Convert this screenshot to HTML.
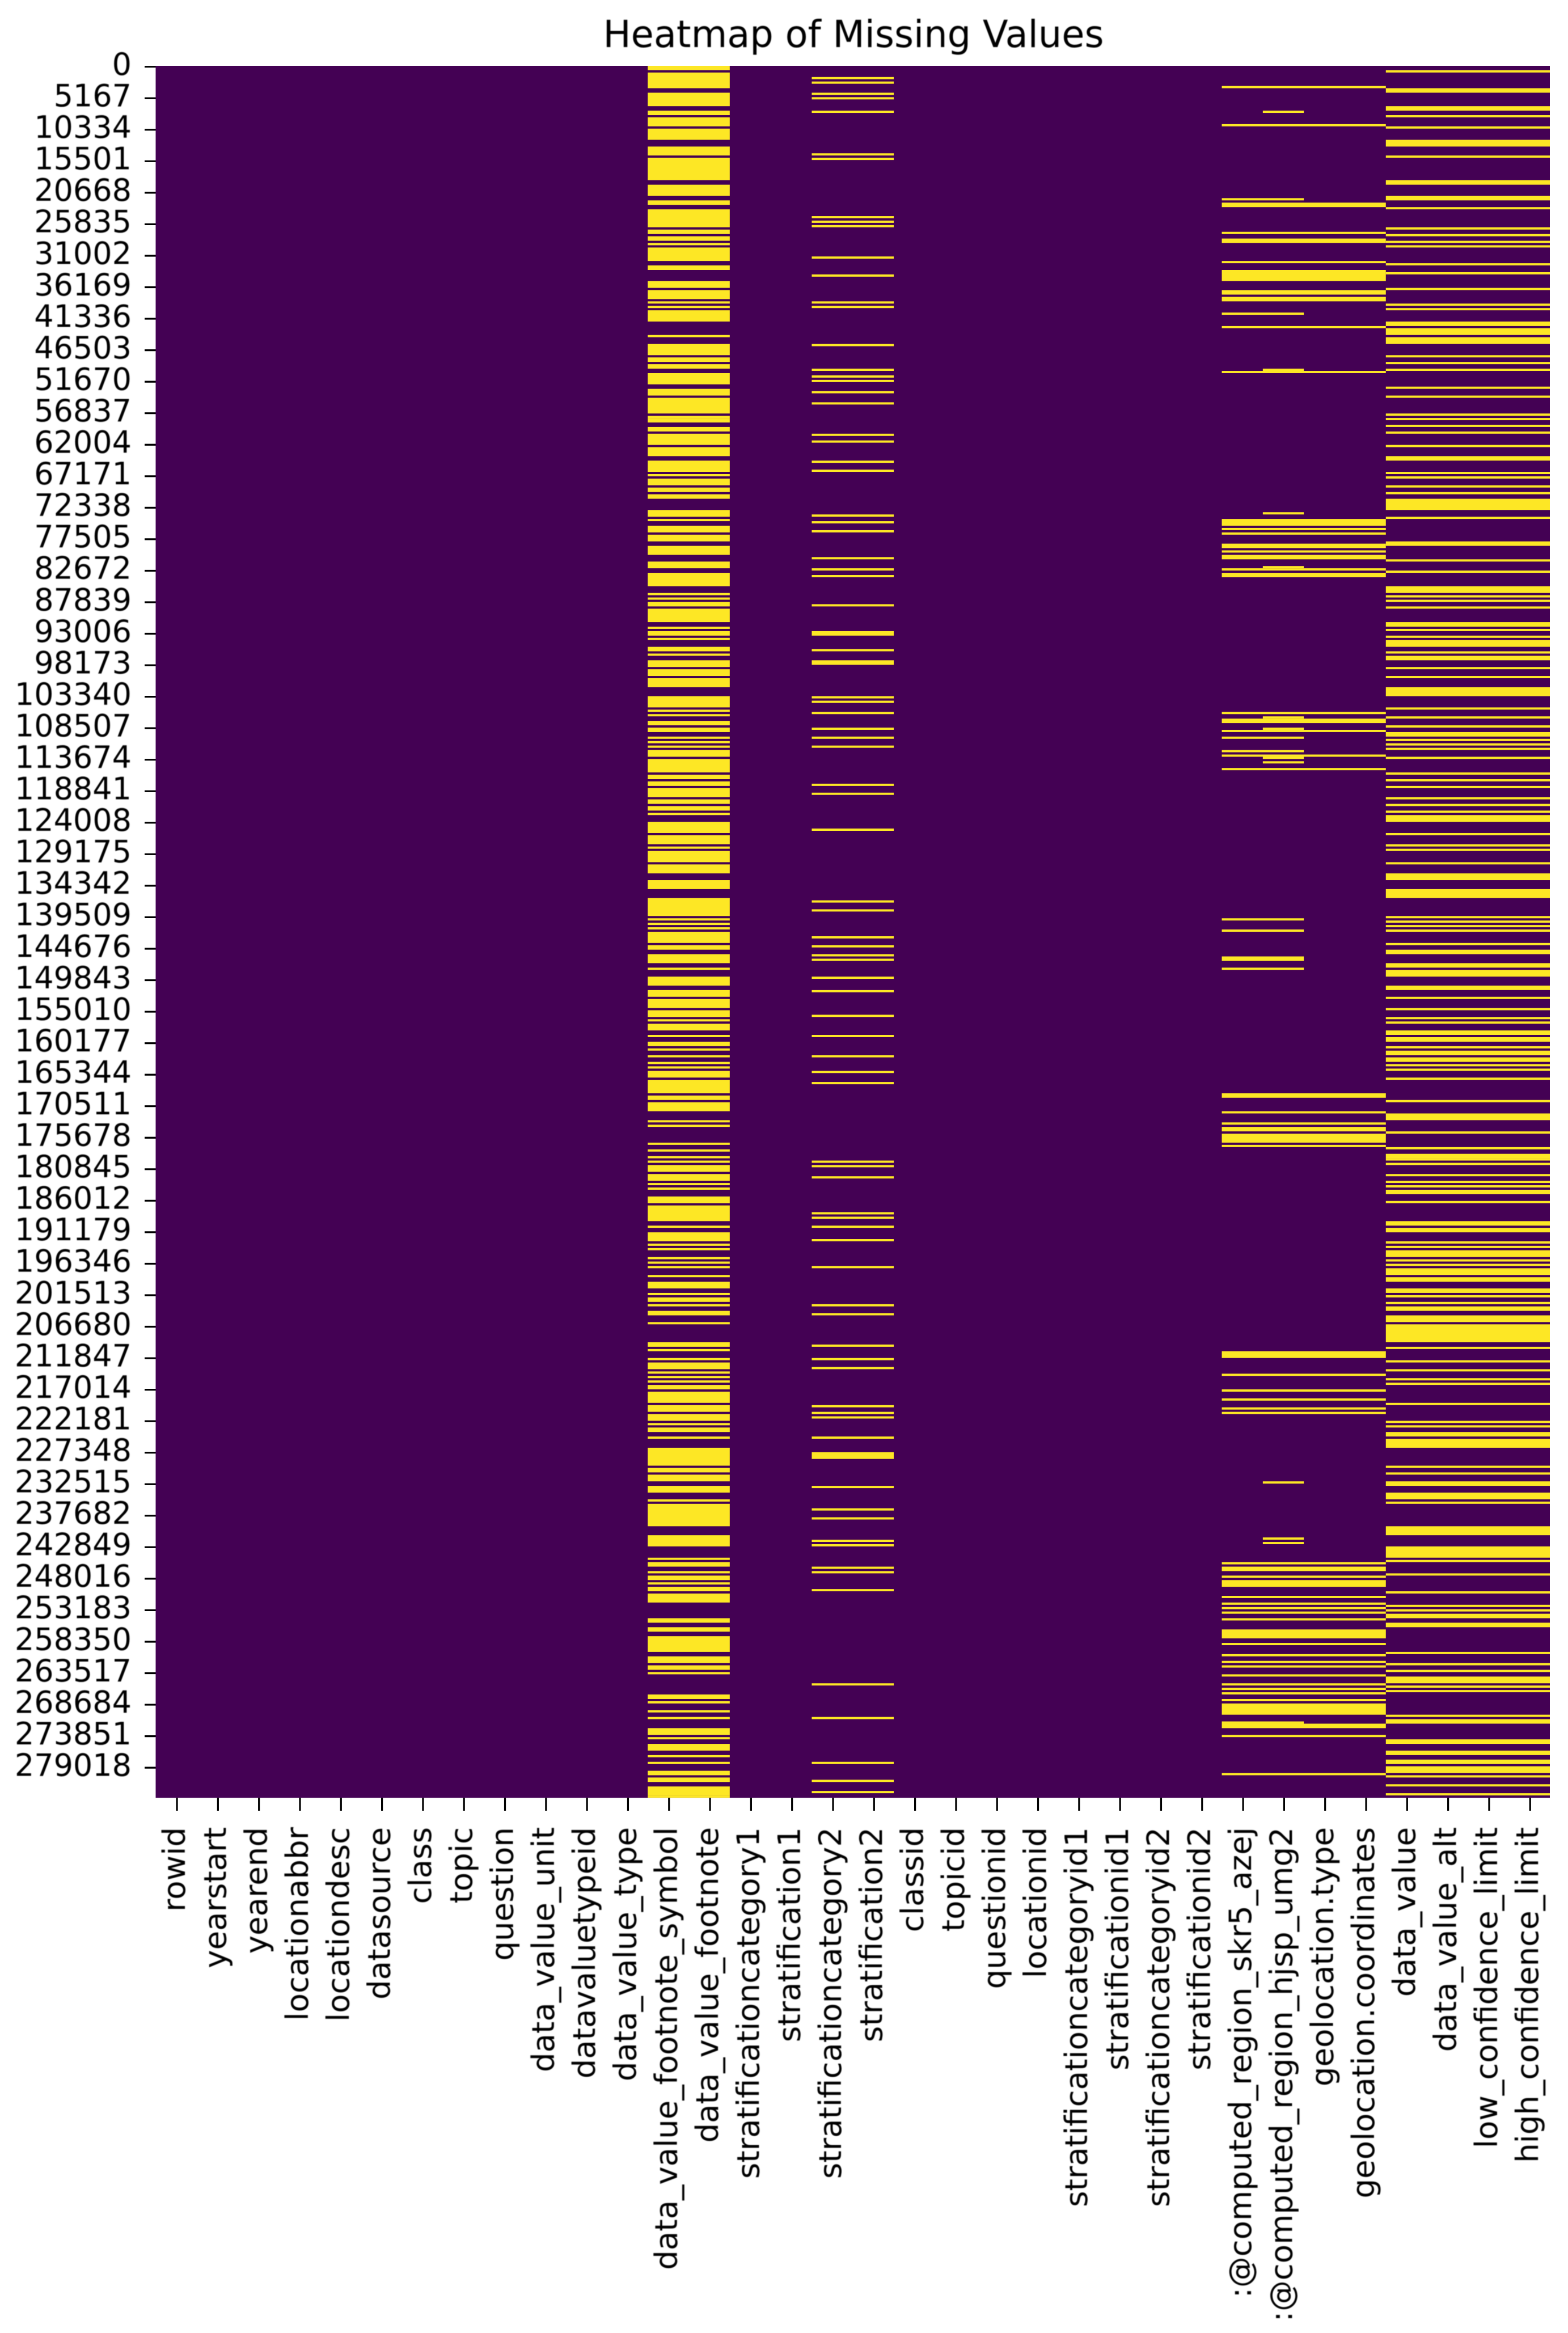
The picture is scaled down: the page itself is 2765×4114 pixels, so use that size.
<!DOCTYPE html>
<html lang="en">
<head>
<meta charset="utf-8">
<title>Heatmap of Missing Values</title>
<style>
html,body{margin:0;padding:0;background:#fff;width:2765px;height:4114px;overflow:hidden}
svg{display:block}
text{font-family:"DejaVu Sans","Liberation Sans",sans-serif;fill:#000;filter:blur(.7px)}
</style>
</head>
<body>
<svg id="chart" xmlns="http://www.w3.org/2000/svg" width="2765" height="4114" viewBox="0 0 2765 4114">
  <rect x="0" y="0" width="2765" height="4114" fill="#ffffff"/>
  <text id="title" x="1505" y="83" font-size="66" text-anchor="middle" textLength="883" lengthAdjust="spacingAndGlyphs">Heatmap of Missing Values</text>
  <g id="cells"></g>
  <g id="y-axis"></g>
  <g id="x-axis"></g>
</svg>
<script>
const columnNames = ["rowid","yearstart","yearend","locationabbr","locationdesc","datasource","class","topic","question","data_value_unit","datavaluetypeid","data_value_type","data_value_footnote_symbol","data_value_footnote","stratificationcategory1","stratification1","stratificationcategory2","stratification2","classid","topicid","questionid","locationid","stratificationcategoryid1","stratificationid1","stratificationcategoryid2","stratificationid2",":@computed_region_skr5_azej",":@computed_region_hjsp_umg2","geolocation.type","geolocation.coordinates","data_value","data_value_alt","low_confidence_limit","high_confidence_limit"];
const rowTickLabels = [0,5167,10334,15501,20668,25835,31002,36169,41336,46503,51670,56837,62004,67171,72338,77505,82672,87839,93006,98173,103340,108507,113674,118841,124008,129175,134342,139509,144676,149843,155010,160177,165344,170511,175678,180845,186012,191179,196346,201513,206680,211847,217014,222181,227348,232515,237682,242849,248016,253183,258350,263517,268684,273851,279018];
const totalRows = 284120;
const rowsPerBlock = 368;

// Missing-value blocks: [first block, number of blocks]
const footnoteMissing = [[0,2],[3,7],[12,6],[20,2],[23,4],[28,5],[36,4],[41,10],[53,5],[60,2],[64,8],[73,2],[76,2],[79,1],[81,6],[89,2],[96,3],[100,4],[105,1],[107,1],[109,5],[120,1],[124,5],[130,2],[133,2],[137,5],[144,3],[148,7],[156,1],[157,2],[161,2],[164,5],[170,4],[176,5],[182,1],[184,3],[188,2],[191,2],[198,3],[202,1],[205,3],[209,3],[214,4],[221,3],[226,6],[235,1],[237,1],[239,2],[242,6],[250,1],[252,2],[255,1],[259,2],[262,1],[265,3],[269,3],[273,4],[281,5],[287,1],[289,1],[292,2],[295,2],[299,1],[301,1],[303,1],[305,3],[309,6],[316,2],[319,2],[322,4],[327,2],[330,2],[333,1],[337,5],[343,4],[348,1],[350,5],[356,4],[363,4],[371,8],[380,1],[382,1],[384,1],[386,5],[392,2],[396,4],[402,1],[406,4],[412,3],[416,4],[421,3],[425,1],[427,3],[432,1],[435,2],[438,1],[441,1],[444,1],[446,1],[448,3],[452,6],[459,2],[462,4],[470,1],[472,1],[480,1],[483,1],[486,1],[488,1],[490,3],[494,3],[498,1],[500,1],[504,3],[508,7],[517,1],[520,4],[525,1],[527,1],[531,1],[533,1],[535,1],[539,1],[542,3],[547,1],[549,2],[552,1],[555,2],[560,1],[569,2],[572,1],[576,1],[578,3],[582,1],[584,1],[586,1],[588,2],[591,5],[597,3],[601,3],[605,1],[607,2],[611,1],[616,8],[625,2],[628,3],[633,3],[639,1],[641,10],[655,5],[665,1],[667,2],[671,1],[673,2],[676,1],[678,2],[681,4],[692,2],[696,2],[700,7],[709,3],[713,2],[716,1],[726,2],[729,1],[733,1],[736,1],[741,3],[745,1],[748,3],[753,1],[756,1],[760,2],[763,2],[767,4],[771,1]];
const stratification2Missing = [[5,1],[7,1],[12,1],[14,1],[20,1],[39,1],[41,1],[67,1],[69,1],[71,1],[85,1],[93,1],[105,1],[107,1],[124,1],[135,1],[138,1],[140,1],[145,1],[150,1],[164,1],[167,1],[176,1],[180,1],[200,1],[203,1],[207,1],[219,1],[224,1],[227,1],[240,1],[252,2],[260,1],[265,2],[281,1],[283,1],[288,1],[295,1],[299,1],[303,1],[320,1],[324,1],[340,1],[372,1],[376,1],[388,1],[392,1],[396,1],[398,1],[406,1],[412,1],[423,1],[432,1],[441,1],[448,1],[453,1],[488,1],[490,1],[495,1],[511,1],[513,1],[517,1],[523,1],[535,1],[552,1],[556,1],[570,1],[576,1],[580,1],[597,1],[600,1],[602,1],[611,1],[618,3],[633,1],[643,1],[647,1],[657,1],[659,1],[669,1],[671,1],[679,1],[721,1],[736,1],[756,1],[764,1],[769,1]];
const allRegionMissing = [[9,1],[26,1],[61,2],[74,1],[77,2],[87,1],[91,5],[100,2],[103,2],[116,1],[136,1],[202,3],[206,1],[208,1],[213,2],[216,1],[218,2],[224,1],[226,2],[288,1],[291,2],[296,1],[307,1],[313,1],[458,2],[466,1],[471,1],[473,2],[476,4],[481,1],[573,3],[583,1],[590,1],[594,1],[598,1],[600,1],[667,1],[669,2],[673,1],[675,3],[682,1],[685,1],[687,1],[689,1],[692,1],[697,4],[703,1],[708,1],[711,1],[713,1],[717,1],[721,1],[723,1],[725,1],[728,1],[730,5],[739,2],[744,1],[761,1]];
const regionPairMissing = [[59,1],[110,1],[299,1],[305,1],[380,1],[385,1],[397,2],[402,1],[738,1]];
const hjspOnlyMissing = [[20,1],[135,1],[199,1],[223,1],[290,1],[295,1],[308,1],[310,1],[631,1],[656,1],[658,1]];
const valueMissing = [[2,1],[10,2],[18,2],[22,1],[27,1],[33,3],[40,1],[51,2],[58,2],[63,1],[72,1],[75,1],[78,1],[80,1],[88,1],[92,1],[99,1],[106,1],[108,1],[114,2],[117,3],[121,3],[129,1],[132,1],[135,1],[143,1],[147,1],[155,1],[157,1],[160,1],[163,1],[169,1],[174,2],[181,1],[183,1],[187,1],[190,1],[193,5],[201,1],[212,2],[220,1],[225,1],[232,3],[236,1],[238,1],[241,1],[248,2],[251,1],[254,1],[256,3],[261,1],[263,2],[268,1],[272,1],[277,4],[286,1],[290,1],[294,1],[297,2],[300,1],[302,1],[304,1],[308,1],[315,1],[318,1],[321,1],[326,1],[329,1],[332,1],[334,3],[342,1],[347,1],[349,1],[355,1],[360,3],[367,4],[379,1],[381,1],[383,1],[385,1],[391,1],[394,2],[400,2],[403,3],[410,2],[415,1],[420,1],[424,1],[426,1],[430,2],[433,2],[437,1],[439,2],[442,2],[445,1],[447,1],[451,1],[461,1],[467,3],[475,1],[482,1],[485,2],[487,1],[489,1],[494,1],[497,1],[499,1],[501,2],[506,1],[515,2],[518,2],[524,1],[526,1],[528,3],[532,1],[534,1],[536,3],[540,2],[545,2],[548,1],[551,1],[553,2],[557,3],[561,8],[571,1],[577,1],[581,1],[585,1],[587,1],[596,1],[604,1],[606,1],[609,2],[612,4],[624,1],[627,1],[631,2],[636,3],[640,1],[651,4],[660,5],[666,1],[672,1],[680,1],[686,1],[688,1],[690,2],[694,2],[707,1],[712,1],[715,1],[718,3],[722,1],[724,1],[735,1],[737,2],[746,2],[751,2],[755,2],[758,3],[762,1],[766,1],[770,1]];

const footnoteColumns = ["data_value_footnote_symbol","data_value_footnote"];
const stratification2Columns = ["stratificationcategory2","stratification2"];
const allRegionColumns = [":@computed_region_skr5_azej",":@computed_region_hjsp_umg2","geolocation.type","geolocation.coordinates"];
const regionPairColumns = [":@computed_region_skr5_azej",":@computed_region_hjsp_umg2"];
const hjspOnlyColumns = [":@computed_region_hjsp_umg2"];
const valueColumns = ["data_value","data_value_alt","low_confidence_limit","high_confidence_limit"];

const NS = "http://www.w3.org/2000/svg";
const plotLeft = 274.5, plotRight = 2733, plotTop = 116, plotBottom = 3170.3;
const colWidth = (plotRight - plotLeft) / columnNames.length;
function xScale(columnPosition){ return plotLeft + columnPosition * colWidth; }
function yScale(row){ return plotTop + row / totalRows * (plotBottom - plotTop); }
function make(tag, attrs){
  const el = document.createElementNS(NS, tag);
  for (const k in attrs) el.setAttribute(k, attrs[k]);
  return el;
}

const cells = document.getElementById("cells");
const base = make("rect", {x:plotLeft, y:plotTop, width:plotRight-plotLeft, height:plotBottom-plotTop, fill:"#440154"});


cells.appendChild(base);

function drawBlocks(columns, blocks, label){
  const first = columnNames.indexOf(columns[0]);
  const x0 = xScale(first);
  const w = columns.length * colWidth;
  for (const block of blocks){
    const y0 = yScale(block[0] * rowsPerBlock);
    const y1 = yScale((block[0] + block[1]) * rowsPerBlock);
    const r = make("rect", {x:x0, y:y0, width:w, height:y1-y0, fill:"#fde725"});
    
    
    cells.appendChild(r);
  }
}
drawBlocks(footnoteColumns, footnoteMissing, 'footnote-missing-block');
drawBlocks(stratification2Columns, stratification2Missing, 'stratification2-missing-block');
drawBlocks(allRegionColumns, allRegionMissing, 'geolocation-missing-block');
drawBlocks(regionPairColumns, regionPairMissing, 'computed-region-missing-block');
drawBlocks(hjspOnlyColumns, hjspOnlyMissing, 'hjsp-region-missing-block');
drawBlocks(valueColumns, valueMissing, 'data-value-missing-block');

const yAxis = document.getElementById("y-axis");
for (const label of rowTickLabels){
  const y = yScale(label) + 1.7;
  const tick = make("line", {x1:255, x2:274.5, y1:y, y2:y, stroke:"#000", "stroke-width":3.2});
  
  
  yAxis.appendChild(tick);
  const t = make("text", {x:232, y:y+14.3, "font-size":54, "text-anchor":"end"});
  
  
  t.textContent = String(label);
  yAxis.appendChild(t);
}

const xAxis = document.getElementById("x-axis");
columnNames.forEach(function(name, i){
  const x = xScale(i + 0.5) + 1.4;
  const tick = make("line", {x1:x, x2:x, y1:plotBottom, y2:3193, stroke:"#000", "stroke-width":3.2});
  
  
  xAxis.appendChild(tick);
  const t = make("text", {x:0, y:0, "font-size":54, "text-anchor":"end", transform:"translate(" + (x + 14) + " 3222) rotate(-90) scale(1.01 1)"});
  
  
  t.textContent = name;
  xAxis.appendChild(t);
});
</script>
</body>
</html>
